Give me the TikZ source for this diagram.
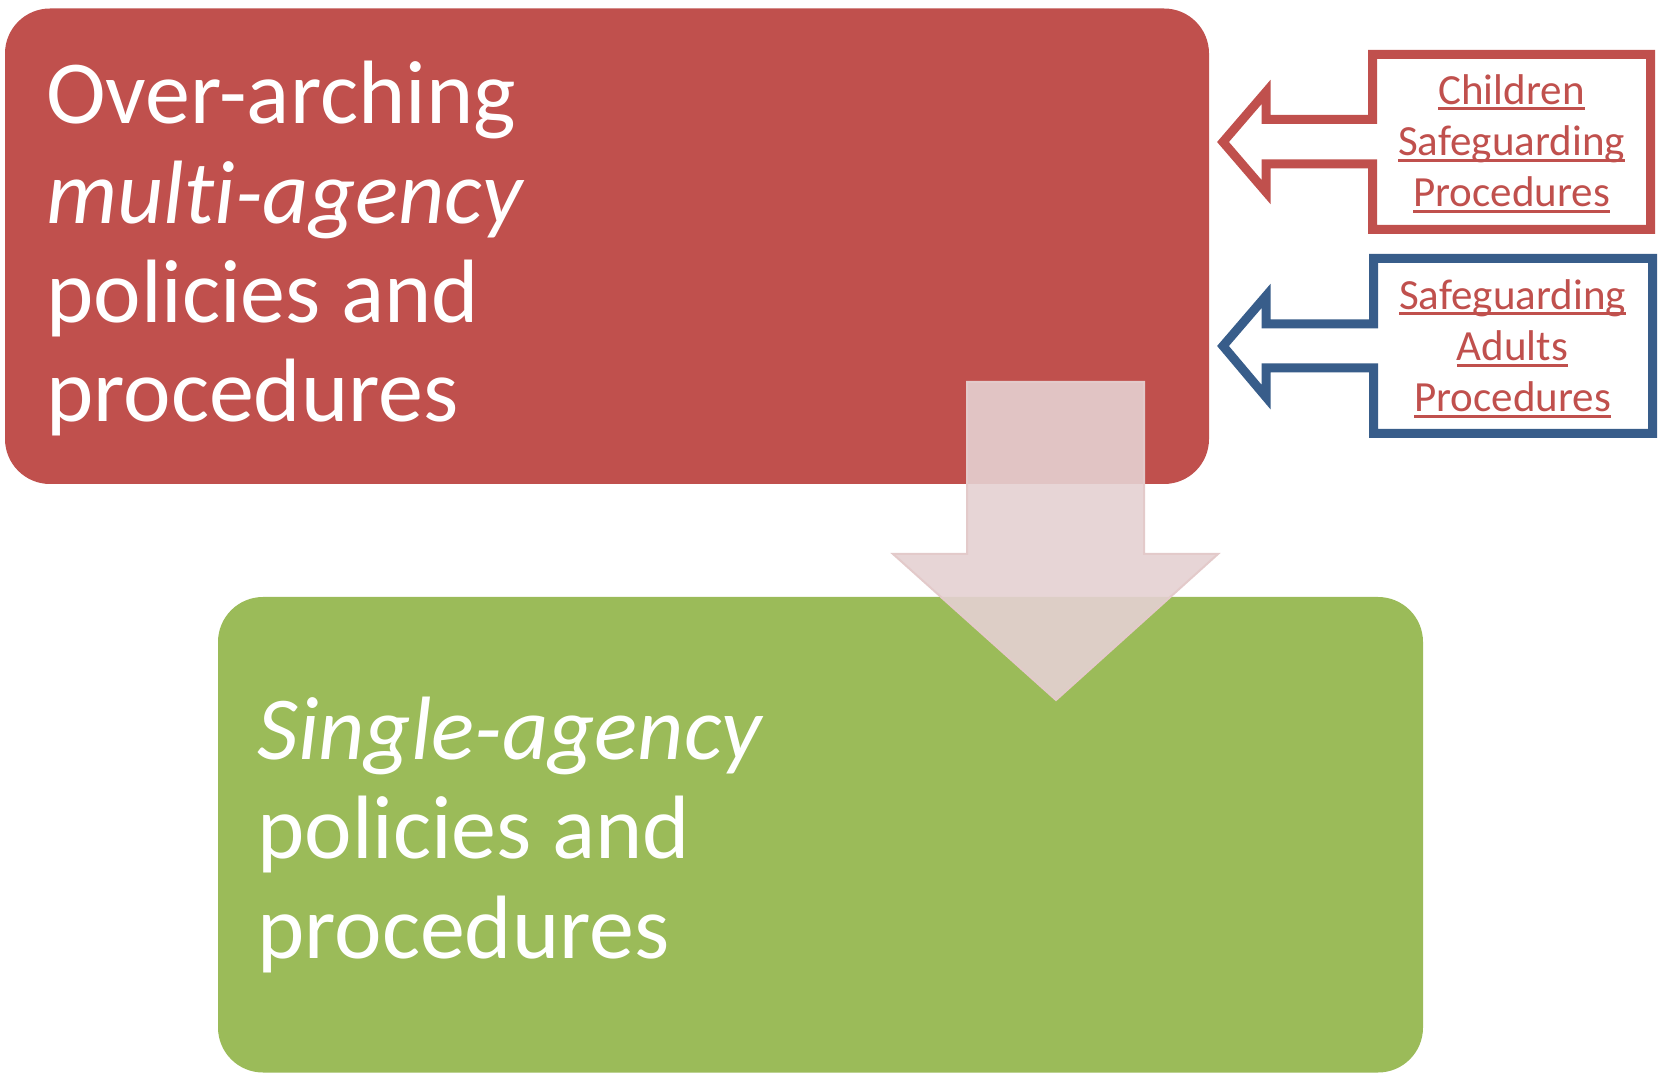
\documentclass[tikz,border=0pt]{standalone}
\usepackage{fontspec}
\setmainfont{Carlito}[Ligatures=NoCommon]
\definecolor{redc}{HTML}{C0504D}
\definecolor{greenc}{HTML}{9BBB59}
\definecolor{bluec}{HTML}{385D8A}
\definecolor{arrowfill}{RGB}{229,209,210}
\definecolor{arrowline}{RGB}{227,202,202}
\newcommand{\myul}[1]{\setbox0\hbox{#1}\rlap{\rule[-3pt]{\wd0}{1.5pt}}\box0}
\begin{document}
\begin{tikzpicture}[x=0.5pt,y=-0.5pt,
  bigbox/.style={rounded corners=22.5pt},
  bigtext/.style={text=white, align=left, anchor=base west, inner sep=0pt, font=\fontsize{45}{49.7}\selectfont},
  callout/.style={line width=4.5pt, fill=white, line join=miter},
  smalltext/.style={text=redc, font=\fontsize{21.5}{25.7}\selectfont, align=center, inner sep=0pt, anchor=base}]
\useasboundingbox (0,0) rectangle (1665,1074);
\fill[white] (0,0) rectangle (1665,1074);
% big boxes
\fill[redc, bigbox] (5,8.5) rectangle (1209,484);
\node[bigtext] (multi) at (46,422) {Over-arching\\\textit{multi-agency}\\policies and\\procedures};
\fill[greenc, bigbox] (218,597) rectangle (1423,1072.5);
\node[bigtext] (single) at (257,958) {\textit{Single-agency}\\policies and\\procedures};
% callouts
\draw[redc, callout] (1372.5,54.5) -- (1650.5,54.5) -- (1650.5,229.5) -- (1372.5,229.5) -- (1372.5,164) -- (1266,164) -- (1266,192) -- (1223,142) -- (1266,92) -- (1266,119.5) -- (1372.5,119.5) -- cycle;
\node[smalltext] (children) at (1511.5,207) {\myul{Children}\\\myul{Safeguarding}\\\myul{Procedures}};
\draw[bluec, callout] (1373.5,258.5) -- (1652.5,258.5) -- (1652.5,433.5) -- (1373.5,433.5) -- (1373.5,368) -- (1266,368) -- (1266,397) -- (1223,346) -- (1266,296) -- (1266,324) -- (1373.5,324) -- cycle;
\node[smalltext] (adults) at (1512.5,412) {\myul{Safeguarding}\\\myul{Adults}\\\myul{Procedures}};
% down arrow
\filldraw[fill=arrowfill, fill opacity=0.9, draw=arrowline, line width=1pt] (967,382) -- (1144,382) -- (1144,554) -- (1218,554) -- (1056,700) -- (893,554) -- (967,554) -- cycle;
\end{tikzpicture}
\end{document}
